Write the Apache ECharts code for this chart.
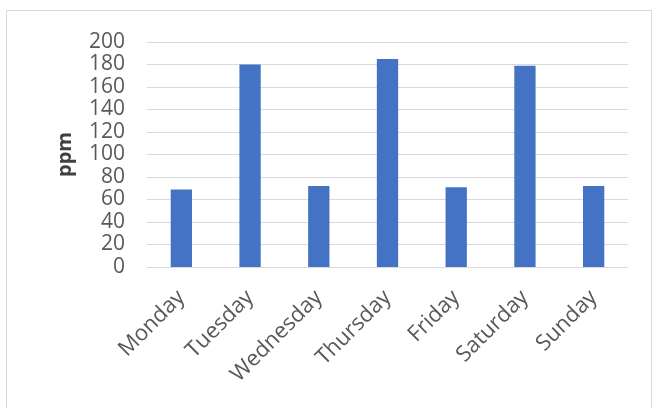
<!DOCTYPE html>
<html>
<head>
<meta charset="utf-8">
<script src="https://cdn.jsdelivr.net/npm/echarts@6/dist/echarts.min.js"></script>
<style>
    html, body { margin: 0; padding: 0; background: #fff; }
    #frame {
        position: absolute; left: 6px; top: 10px; width: 646px; height: 420px;
        border: 1px solid #d9d9d9; box-sizing: border-box;
    }
    #chartDiv { position: absolute; left: 0; top: 0; width: 657px; height: 408px; }
</style>
</head>
<body>
<div id="frame"></div>
<div id="chartDiv"></div>
<script>
var days = ['Monday', 'Tuesday', 'Wednesday', 'Thursday', 'Friday', 'Saturday', 'Sunday'];
var ppmValues = [69, 180, 72, 185, 71, 179, 72];
var yTicks = [0, 20, 40, 60, 80, 100, 120, 140, 160, 180, 200];

var myChart = echarts.init(document.getElementById('chartDiv'));
myChart.setOption({
    animation: false,
    textStyle: { fontFamily: 'Open Sans' },
    grid: {
        left: 147,
        right: 29,
        top: 42,
        bottom: 141
    },
    xAxis: {
        type: 'category',
        data: days,
        axisLine: { lineStyle: { color: '#d9d9d9' } },
        axisTick: { show: false },
        axisLabel: {
            rotate: 45,
            margin: 27,
            fontSize: 22,
            color: '#595959',
            fontFamily: 'Open Sans'
        }
    },
    yAxis: {
        type: 'value',
        min: yTicks[0],
        max: yTicks[yTicks.length - 1],
        interval: 20,
        name: 'ppm',
        nameLocation: 'middle',
        nameGap: 72,
        nameTextStyle: { fontSize: 20, fontWeight: 'bold', color: '#404040', fontFamily: 'Open Sans' },
        axisLine: { show: false },
        axisTick: { show: false },
        axisLabel: { fontSize: 21, color: '#595959', margin: 22, fontFamily: 'Open Sans' },
        splitLine: { lineStyle: { color: '#d9d9d9', width: 1 } }
    },
    series: [
        {
            name: 'ppm',
            type: 'bar',
            barWidth: '31%',
            itemStyle: { color: '#4472c4' },
            data: ppmValues
        }
    ]
});
</script>
</body>
</html>
